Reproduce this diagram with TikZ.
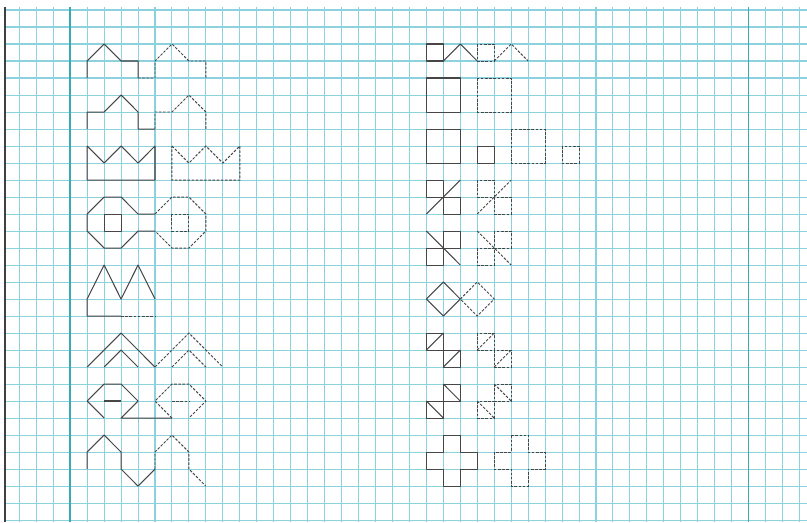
\documentclass[tikz,border=0pt]{standalone}
\usetikzlibrary{calc}
\definecolor{gridblue}{RGB}{140,209,222}
\definecolor{marginteal}{RGB}{55,170,182}
\definecolor{pencil}{RGB}{70,70,70}

\begin{document}
\begin{tikzpicture}[x=0.4988cm, y=-0.5cm,
    gridline/.style={gridblue, line width=0.85pt},
    margin/.style={marginteal, line width=1.3pt},
    solidfig/.style={pencil, line width=0.85pt, line join=round},
    dashfig/.style={pencil, line width=0.8pt, dash pattern=on 2.2pt off 1.3pt}
]
    \useasboundingbox[fill=white] (-1.138,-0.588) rectangle (46.44,30.12);
    \foreach \c in {0,...,46} \draw[gridline] (\c,-0.18) -- (\c,30.12);
    \foreach \r in {0,...,30} \draw[gridline] (-0.843,\r) -- (46.44,\r);
    \draw[margin] (3,-0.18) -- (3,30.12);
    \draw[margin] (43,-0.18) -- (43,30.12);
    \draw[black!75, line width=1.3pt] (-0.843,-0.18) -- (-0.843,30.12);

    % left column
    \draw[solidfig] (4,4) -- (4,3) -- (5,2) -- (6,3) -- (7,3) -- (7,4);
    \draw[dashfig] (7,4) -- (8,4) -- (8,3) -- (9,2) -- (10,3) -- (11,3) -- (11,4);

    \draw[solidfig] (4,7) -- (4,6) -- (5,6) -- (6,5) -- (7,6) -- (7,7) -- (8,7);
    \draw[dashfig] (8,7) -- (8,6) -- (9,6) -- (10,5) -- (11,6) -- (11,7);

    \draw[solidfig] (4,8) -- (5,9) -- (6,8) -- (7,9) -- (8,8) -- (8,10) -- (4,10) -- cycle;
    \draw[dashfig] (9,8) -- (10,9) -- (11,8) -- (12,9) -- (13,8) -- (13,10) -- (9,10) -- cycle;

    \draw[solidfig] (8,12) -- (7,12) -- (6,11) -- (5,11) -- (4,12) -- (4,13) -- (5,14) -- (6,14) -- (7,13) -- (8,13);
    \draw[solidfig] (5,12) rectangle (6,13);
    \draw[dashfig] (8,12) -- (9,11) -- (10,11) -- (11,12) -- (11,13) -- (10,14) -- (9,14) -- (8,13);
    \draw[dashfig] (9,12) rectangle (10,13);

    \draw[solidfig] (8,17) -- (7,15) -- (6,17) -- (5,15) -- (4,17) -- (4,18) -- (6,18);
    \draw[dashfig] (6,18) -- (8,18);

    \draw[solidfig] (4,21) -- (6,19) -- (8,21);
    \draw[solidfig] (5,21) -- (6,20) -- (7,21);
    \draw[dashfig] (8,21) -- (10,19) -- (12,21);
    \draw[dashfig] (9,21) -- (10,20) -- (11,21);

    \draw[solidfig] (5,24) -- (4,23) -- (5,22) -- (6,22) -- (7,23) -- (6,24) -- (9,24);
    \draw[solidfig, line width=1.2pt] (5,23) -- (6,23);
    \draw[dashfig] (9,24) -- (8,23) -- (9,22) -- (10,22) -- (11,23) -- (10,24);
    \draw[dashfig] (9,23) -- (10,23);

    \draw[solidfig] (4,27) -- (4,26) -- (5,25) -- (6,26) -- (6,27) -- (7,28) -- (8,27);
    \draw[dashfig] (8,27) -- (8,26) -- (9,25) -- (10,26) -- (10,27) -- (11,28);

    % right column
    \draw[solidfig] (24,2) rectangle (25,3);
    \draw[solidfig] (25,3) -- (26,2) -- (27,3);
    \draw[dashfig] (27,2) rectangle (28,3);
    \draw[dashfig] (28,3) -- (29,2) -- (30,3);

    \draw[solidfig] (24,4) rectangle (26,6);
    \draw[dashfig] (27,4) rectangle (29,6);

    \draw[solidfig] (24,7) rectangle (26,9);
    \draw[solidfig] (27,8) rectangle (28,9);
    \draw[dashfig] (29,7) rectangle (31,9);
    \draw[dashfig] (32,8) rectangle (33,9);

    \draw[solidfig] (24,10) rectangle (25,11) (25,11) rectangle (26,12);
    \draw[solidfig] (24,12) -- (26,10);
    \draw[dashfig] (27,10) rectangle (28,11) (28,11) rectangle (29,12);
    \draw[dashfig] (27,12) -- (29,10);

    \draw[solidfig] (25,13) rectangle (26,14) (24,14) rectangle (25,15);
    \draw[solidfig] (24,13) -- (26,15);
    \draw[dashfig] (28,13) rectangle (29,14) (27,14) rectangle (28,15);
    \draw[dashfig] (27,13) -- (29,15);

    \draw[solidfig] (24,17) -- (25,16) -- (26,17) -- (25,18) -- cycle;
    \draw[dashfig] (26,17) -- (27,16) -- (28,17) -- (27,18) -- cycle;

    \draw[solidfig] (24,19) rectangle (25,20) (25,20) rectangle (26,21);
    \draw[solidfig] (24,20) -- (25,19) (25,21) -- (26,20);
    \draw[dashfig] (27,19) rectangle (28,20) (28,20) rectangle (29,21);
    \draw[dashfig] (27,20) -- (28,19) (28,21) -- (29,20);

    \draw[solidfig] (25,22) rectangle (26,23) (24,23) rectangle (25,24);
    \draw[solidfig] (25,22) -- (26,23) (24,23) -- (25,24);
    \draw[dashfig] (28,22) rectangle (29,23) (27,23) rectangle (28,24);
    \draw[dashfig] (28,22) -- (29,23) (27,23) -- (28,24);

    \draw[solidfig] (25,25) -- (26,25) -- (26,26) -- (27,26) -- (27,27) -- (26,27) -- (26,28) -- (25,28) -- (25,27) -- (24,27) -- (24,26) -- (25,26) -- cycle;
    \draw[dashfig] (29,25) -- (30,25) -- (30,26) -- (31,26) -- (31,27) -- (30,27) -- (30,28) -- (29,28) -- (29,27) -- (28,27) -- (28,26) -- (29,26) -- cycle;
\end{tikzpicture}
\end{document}
